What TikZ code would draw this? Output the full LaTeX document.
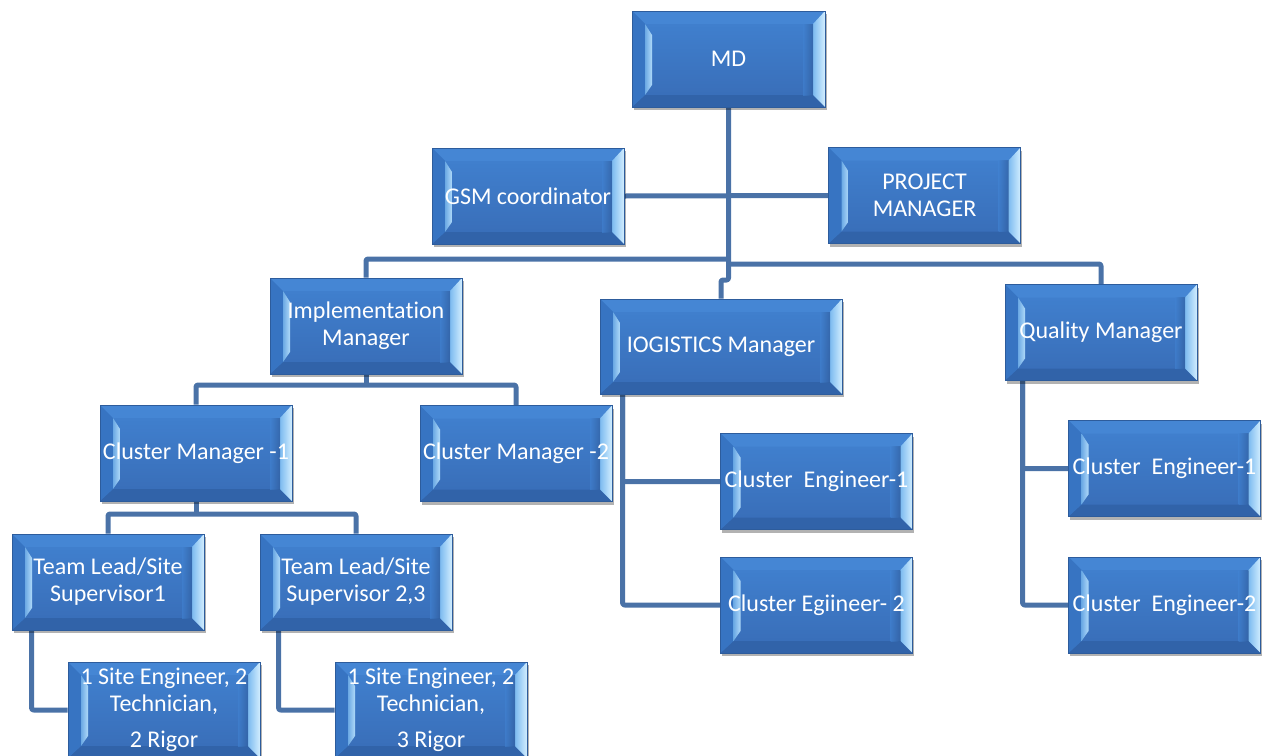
\documentclass[tikz,border=0pt]{standalone}
\usepackage{fontspec}
\setmainfont{Carlito}[Ligatures={NoCommon}]
\usetikzlibrary{calc,shadows}
\definecolor{connc}{HTML}{4A72A7}
\definecolor{facetop}{HTML}{4182D1}
\definecolor{facebot}{HTML}{386CB6}
\definecolor{boxedge}{HTML}{2D5C9C}
\definecolor{frtop}{HTML}{4586D4}
\definecolor{frbot}{HTML}{3163A9}
\definecolor{frleft}{HTML}{3774C2}
\definecolor{lightin}{HTML}{7DBBF0}
\definecolor{lightout}{HTML}{D2EEFF}
\newcommand\boxfont{\fontsize{24}{27}\selectfont}
\pgfdeclarelayer{bg}
\pgfsetlayers{bg,main}
\tikzset{
  bevel/.style={path picture={
    \path (path picture bounding box.north west) coordinate (pnw)
          (path picture bounding box.north east) coordinate (pne)
          (path picture bounding box.south west) coordinate (psw)
          (path picture bounding box.south east) coordinate (pse);
    \fill[frtop] (pnw) -- (pne) -- ($(pne)+(-12,13)$) -- ($(pnw)+(13,13)$) -- cycle;
    \fill[frbot] (psw) -- (pse) -- ($(pse)+(-12,-12)$) -- ($(psw)+(13,-12)$) -- cycle;
    \fill[frleft] (pnw) -- ($(pnw)+(13,13)$) -- ($(psw)+(13,-12)$) -- (psw) -- cycle;
    \shade[left color=lightin, right color=lightout] (pne) -- ($(pne)+(-12,13)$) -- ($(pse)+(-12,-12)$) -- (pse) -- cycle;
    \shade[left color=facetop, right color=facebot!85!black, opacity=0.6] ($(pne)+(-22,13)$) rectangle ($(pse)+(-12,-12)$);
    \shade[left color=lightin!75!frleft, right color=lightout!60!lightin] ($(pnw)+(13,13)$) -- ($(pnw)+(20,24)$) -- ($(psw)+(20,-22)$) -- ($(psw)+(13,-12)$) -- cycle;
  }},
  box/.style={rectangle, minimum width=192pt, minimum height=96pt, inner sep=0pt,
    draw=boxedge, line width=0.8pt, top color=facetop, bottom color=facebot,
    drop shadow={shadow xshift=1.5pt, shadow yshift=-3pt, opacity=0.3, fill=black},
    text=white, font=\boxfont, align=center, bevel},
  conn/.style={draw=connc, line width=5pt, line join=round, rounded corners=2pt}
}
\begin{document}
\begin{tikzpicture}[x=1pt,y=-1pt]
\useasboundingbox (0,0) rectangle (1265,755);
\clip (0,0) rectangle (1265,755);
\node[box, minimum width=193pt] (md) at (728.5,59) {MD};
\node[box] (gsm) at (528,196) {GSM coordinator};
\node[box] (pm) at (924.5,195.5) {PROJECT\\MANAGER};
\node[box] (impl) at (366,326) {Implementation\\Manager};
\node[box, minimum width=242pt, minimum height=95pt] (log) at (721,346.5) {IOGISTICS Manager};
\node[box] (qm) at (1101,332.5) {Quality Manager};
\node[box] (cm1) at (196,453) {Cluster Manager -1};
\node[box] (cm2) at (516,453.5) {Cluster Manager -2};
\node[box] (ce1) at (816.5,481.5) {Cluster\ \ Engineer-1};
\node[box] (ce2) at (816.5,605) {Cluster Egiineer- 2};
\node[box] (qce1) at (1164.5,468.5) {Cluster\ \ Engineer-1};
\node[box] (qce2) at (1164.5,605) {Cluster\ \ Engineer-2};
\node[box] (tl1) at (108,582) {Team Lead/Site\\Supervisor1};
\node[box] (tl2) at (356,582) {Team Lead/Site\\Supervisor 2,3};
\node[box] (se1) at (164,710) {1 Site Engineer, 2\\Technician,\\[9pt]2 Rigor};
\node[box] (se2) at (431,710) {1 Site Engineer, 2\\Technician,\\[9pt]3 Rigor};
\coordinate (busL) at (0,259);
\coordinate (busR) at (0,264);
\coordinate (jog) at (0,280);
\coordinate (busI) at (0,385);
\coordinate (busC) at (0,514);
\begin{pgfonlayer}{bg}
\draw[conn] (gsm.east) -- (pm.west);
\draw[conn] (md.south) -- (md.south |- jog) -| (log.north);
\draw[conn] (impl.north) -- (impl.north |- busL) -- (md.south |- busL);
\draw[conn] (md.south |- busR) -- (qm.north |- busR) -- (qm.north);
\draw[conn] (impl.south) -- (impl.south |- busI);
\draw[conn] (cm1.north) -- (cm1.north |- busI) -- (cm2.north |- busI) -- (cm2.north);
\draw[conn] (cm1.south) -- (cm1.south |- busC);
\draw[conn] (tl1.north) -- (tl1.north |- busC) -- (tl2.north |- busC) -- (tl2.north);
\draw[conn] ([xshift=20pt]tl1.south west) |- (se1.west);
\draw[conn] ([xshift=19pt]tl2.south west) |- (se2.west);
\draw[conn] ([xshift=23pt]log.south west) |- (ce1.west);
\draw[conn] ([xshift=23pt]log.south west) |- (ce2.west);
\draw[conn] ([xshift=18pt]qm.south west) |- (qce1.west);
\draw[conn] ([xshift=18pt]qm.south west) |- (qce2.west);
\end{pgfonlayer}
\end{tikzpicture}
\end{document}
